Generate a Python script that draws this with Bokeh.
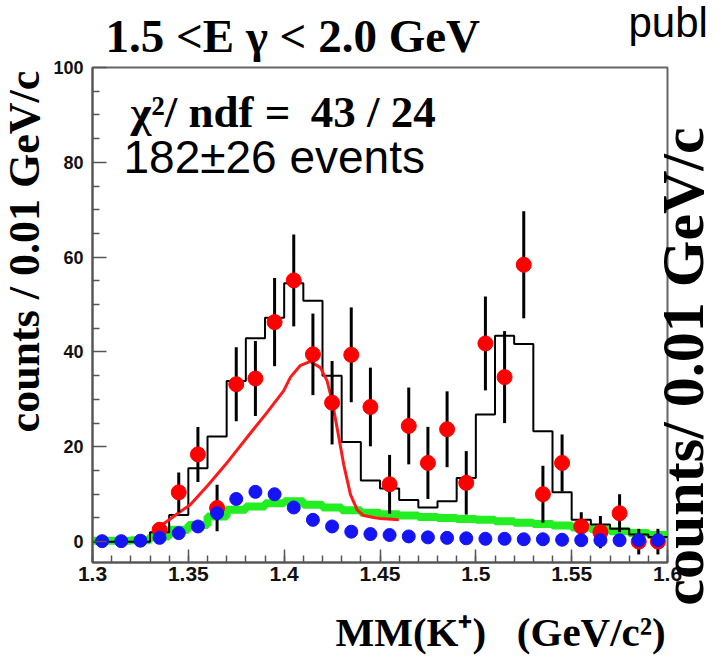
import numpy as np
from bokeh.plotting import figure
from bokeh.models import Range1d, FixedTicker, Label
from bokeh.embed import file_html
from bokeh.resources import INLINE

# ---------------- data ----------------
bin_edges = [1.30, 1.31, 1.32, 1.33, 1.34, 1.35, 1.36, 1.37, 1.38, 1.39, 1.40,
             1.41, 1.42, 1.43, 1.44, 1.45, 1.46, 1.47, 1.48, 1.49, 1.50,
             1.51, 1.52, 1.53, 1.54, 1.55, 1.56, 1.57, 1.58, 1.59, 1.60]
bin_centers = [1.305, 1.315, 1.325, 1.335, 1.345, 1.355, 1.365, 1.375, 1.385, 1.395,
               1.405, 1.415, 1.425, 1.435, 1.445, 1.455, 1.465, 1.475, 1.485, 1.495,
               1.505, 1.515, 1.525, 1.535, 1.545, 1.555, 1.565, 1.575, 1.585, 1.595]

# total fit histogram (black)
fit_hist = [0, 0, 0, 2.0, 5.6, 15.5, 22.2, 33.9, 42.9, 47.2,
            54.5, 50.8, 35.0, 21.0, 12.9, 11.2, 8.8, 7.2, 8.5, 13.4,
            26.8, 43.4, 41.7, 23.3, 10.4, 4.6, 3.6, 2.7, 1.5, 1.0]
# background histogram (green)
bkg_hist = [0.2, 0.2, 0.3, 1.1, 2.5, 3.5, 5.3, 6.7, 7.4, 8.1,
            8.5, 7.8, 7.2, 6.6, 6.1, 5.8, 5.5, 5.2, 5.0, 4.8,
            4.6, 4.3, 4.0, 3.7, 3.4, 3.0, 2.6, 2.2, 1.8, 1.4]
# blue points
blue_y = [0.1, 0.1, 0.2, 0.8, 1.8, 3.2, 6.0, 9.0, 10.5, 10.0,
          7.2, 4.6, 3.2, 2.1, 1.6, 1.4, 1.1, 0.9, 0.8, 0.7,
          0.6, 0.6, 0.5, 0.5, 0.4, 0.3, 0.3, 0.3, 0.3, 0.3]
# data points (red) with errors
data_x = [1.335, 1.345, 1.355, 1.365, 1.375, 1.385, 1.395, 1.405, 1.415, 1.425,
          1.435, 1.445, 1.455, 1.465, 1.475, 1.485, 1.495, 1.505, 1.515, 1.525,
          1.535, 1.545, 1.555, 1.565, 1.575, 1.585, 1.595]
data_y = [2.5, 10.4, 18.4, 7.1, 33.2, 34.4, 46.3, 55.1, 39.5, 29.3,
          39.4, 28.4, 12.1, 24.4, 16.6, 23.7, 12.4, 41.8, 34.7, 58.4,
          10.0, 16.6, 3.2, 2.0, 6.0, 0.0, 0.0]
data_err = [1.5, 4.2, 5.8, 4.9, 7.8, 7.9, 9.3, 9.7, 8.6, 8.8,
            10.0, 8.3, 6.2, 8.1, 7.6, 8.0, 6.7, 9.9, 9.7, 11.3,
            6.0, 6.0, 3.0, 3.4, 4.0, 2.7, 2.7]
# signal curve (red line)
curve_x = [1.3337, 1.340, 1.345, 1.351, 1.360, 1.3693, 1.384, 1.391, 1.3997, 1.4033,
           1.4083, 1.4137, 1.4189, 1.4224, 1.4250, 1.4276, 1.4311, 1.4346, 1.4381,
           1.4415, 1.4467, 1.4502, 1.4598]
curve_y = [2.8, 4.6, 6.1, 7.8, 11.8, 16.2, 23.7, 27.2, 31.8, 34.7,
           37.1, 38.0, 36.7, 33.9, 29.7, 24.0, 16.2, 9.9, 6.7,
           5.5, 5.1, 4.9, 4.6]

x_ticks = [1.3, 1.35, 1.4, 1.45, 1.5, 1.55, 1.6]
x_tick_labels = ["1.3", "1.35", "1.4", "1.45", "1.5", "1.55", "1.6"]
y_ticks = [0, 20, 40, 60, 80, 100]
y_minor = [5, 10, 15, 25, 30, 35, 45, 50, 55, 65, 70, 75, 85, 90, 95]

title_text = "1.5 <E γ < 2.0 GeV"
chi2_text = "χ²/ ndf = \u200943 / 24"
events_text = "182±26 events"
ylabel_text = "counts / 0.01 GeV/c"
ylabel2_text = "counts/ 0.01 GeV/c"
xlabel_text = "MM(K⁺)\u2002 (GeV/c²)"
corner_text = "publ"

# ---------------- geometry (pixels of the 722x657 page) ----------------
W, H = 722, 657
FL, FR, FT, FB = 92, 667, 67, 562          # the drawn plot box
XMIN, XMAX, YMIN, YMAX = 1.3, 1.6, -4.4, 100.0
sx = (XMAX - XMIN) / (FR - FL)
sy = (YMAX - YMIN) / (FB - FT)
XLO, XHI = XMIN - FL * sx, XMIN + (W - FL) * sx
YHI, YLO = YMAX + FT * sy, YMIN - (H - FB) * sy


def X(px):
    return XMIN + (px - FL) * sx


def Y(py):
    return YMIN + (FB - py) * sy


p = figure(width=W, height=H, output_backend="svg", toolbar_location=None,
           x_range=Range1d(XLO, XHI), y_range=Range1d(YLO, YHI), min_border=0)
p.title.visible = False
p.background_fill_color = "white"
p.border_fill_color = "white"
p.outline_line_color = None
p.xgrid.visible = False
p.ygrid.visible = False

# axes drawn inside the (full-page) frame at the box edges
p.xaxis.fixed_location = YMIN
p.yaxis.fixed_location = XMIN
p.xaxis.bounds = (XMIN, XMAX)
p.yaxis.bounds = (YMIN, YMAX)
p.xaxis.ticker = FixedTicker(ticks=x_ticks, minor_ticks=bin_edges)
p.xaxis.major_label_overrides = {t: s for t, s in zip(x_ticks, x_tick_labels)}
p.yaxis.ticker = FixedTicker(ticks=y_ticks, minor_ticks=y_minor)
for ax in (p.xaxis[0], p.yaxis[0]):
    ax.major_tick_out = 0
    ax.minor_tick_out = 0
    ax.major_tick_line_color = "#555555"
    ax.minor_tick_line_color = "#555555"
    ax.major_tick_line_width = 1.5
    ax.minor_tick_line_width = 1.5
    ax.axis_line_color = "#555555"
    ax.axis_line_width = 2
    ax.major_label_text_font = "Liberation Sans"
    ax.major_label_text_font_style = "bold"
    ax.major_label_text_color = "#111111"
p.xaxis.major_tick_in = 13
p.xaxis.minor_tick_in = 7
p.yaxis.major_tick_in = 14
p.yaxis.minor_tick_in = 7
p.xaxis.major_label_text_font_size = "21px"
p.yaxis.major_label_text_font_size = "18px"
p.xaxis.major_label_standoff = 4
p.yaxis.major_label_standoff = 9

# plot box (top and right sides)
p.quad(left=[XMIN], right=[XMAX], bottom=[YMIN], top=[YMAX],
       fill_color=None, line_color="#666666", line_width=2)

# ---------------- glyphs ----------------
p.step(x=bin_edges, y=bkg_hist + [bkg_hist[-1]], mode="after",
       line_color="#22ee22", line_width=8)
p.step(x=bin_edges, y=fit_hist + [fit_hist[-1]], mode="after",
       line_color="black", line_width=2)
p.line(x=curve_x, y=curve_y, line_color="#ff1a1a", line_width=3)
p.segment(x0=data_x, y0=[v - e for v, e in zip(data_y, data_err)],
          x1=data_x, y1=[v + e for v, e in zip(data_y, data_err)],
          line_color="black", line_width=3)
p.scatter(x=data_x, y=data_y, size=15, fill_color="#ff0000", line_color="#ff0000")
p.scatter(x=bin_centers, y=blue_y, size=13, fill_color="#1414f5", line_color="#1414f5")


# ---------------- texts ----------------
def lab(txt, px, py, size, font="Liberation Serif", style="bold", align="left",
        angle=0.0, baseline="alphabetic"):
    p.add_layout(Label(x=X(px), y=Y(py), text=txt, text_font=font,
                       text_font_style=style, text_font_size=f"{size}px",
                       text_align=align, text_baseline=baseline, angle=angle,
                       text_color="black"))


lab(title_text, 105, 35.5, 47)
lab(chi2_text, 130, 111, 45)
lab(events_text, 123, 156, 46, font="Liberation Sans", style="normal")
lab(ylabel_text, 24, 251, 44, align="center", angle=np.pi / 2)
lab(ylabel2_text, 682, 366, 60, align="center", angle=np.pi / 2)
lab(xlabel_text, 335, 631, 41)
lab(corner_text, 628, 22, 42, font="Liberation Sans", style="normal")

open("out.html", "w").write(file_html(p, INLINE))
